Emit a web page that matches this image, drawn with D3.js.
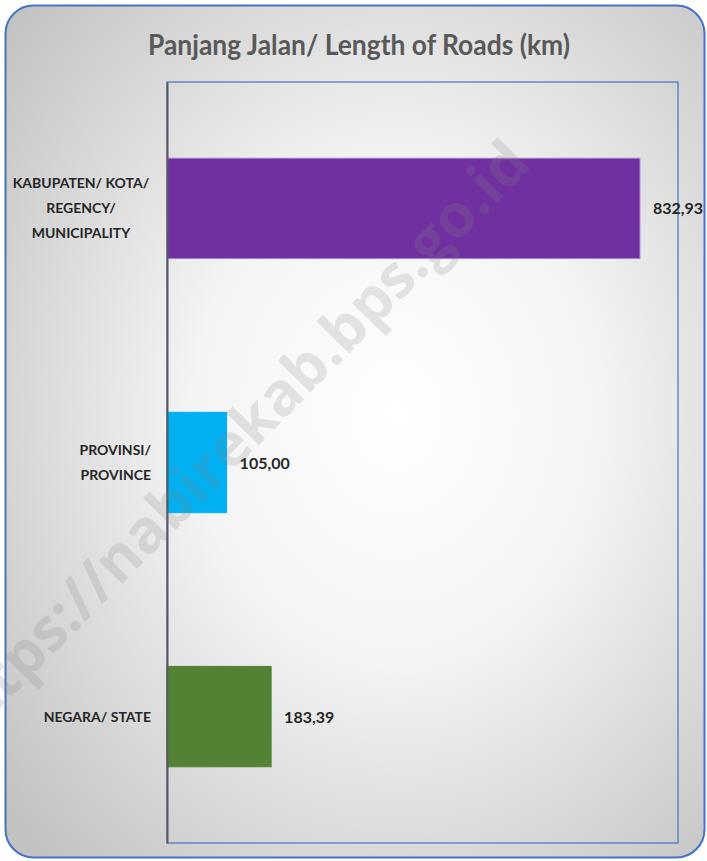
<!DOCTYPE html>
<html>
<head>
<meta charset="utf-8">
<script src="https://cdn.jsdelivr.net/npm/d3@7"></script>
<style>
  html, body { margin: 0; padding: 0; background: #ffffff; }
  svg { display: block; }
</style>
</head>
<body>
<script>
// Road length by administrative status (km)
const categories = ["KABUPATEN/ KOTA/ REGENCY/ MUNICIPALITY", "PROVINSI/ PROVINCE", "NEGARA/ STATE"];
const categoryLines = [["KABUPATEN/ KOTA/", "REGENCY/", "MUNICIPALITY"], ["PROVINSI/", "PROVINCE"], ["NEGARA/ STATE"]];
const values = [832.93, 105.00, 183.39];
const valueLabels = ["832,93", "105,00", "183,39"];
const barColors = ["#7030A0", "#00B0F0", "#548235"];
const barStrokes = ["#a67fd0", "#00B0F0", "#548235"];
const title = "Panjang Jalan/ Length of Roads (km)";
const watermark = "https://nabirekab.bps.go.id";

const W = 707, H = 861;
const plot = { left: 167, right: 678, top: 82, bottom: 843 };

const svg = d3.select("body").append("svg").attr("width", W).attr("height", H);
const defs = svg.append("defs");
const grad = defs.append("radialGradient").attr("id", "bg")
  .attr("cx", "56%").attr("cy", "48%").attr("r", "72%");
grad.append("stop").attr("offset", "0%").attr("stop-color", "#ffffff");
grad.append("stop").attr("offset", "40%").attr("stop-color", "#f4f4f4");
grad.append("stop").attr("offset", "100%").attr("stop-color", "#c2c2c2");

// chart frame
svg.append("rect")
  .attr("x", 5.5).attr("y", 5.5).attr("width", 699).attr("height", 852)
  .attr("rx", 28).attr("ry", 28)
  .attr("fill", "url(#bg)").attr("stroke", "#4472C4").attr("stroke-width", 2);

// title
svg.append("text")
  .attr("x", 359).attr("y", 55)
  .attr("text-anchor", "middle")
  .attr("font-family", "Lato, 'Open Sans', sans-serif")
  .attr("font-weight", "bold").attr("font-size", 28)
  .attr("fill", "#595959")
  .attr("textLength", 422).attr("lengthAdjust", "spacingAndGlyphs")
  .text(title);

const x = d3.scaleLinear().domain([0, 900]).range([plot.left, plot.right]);
const y = d3.scaleBand().domain(categories).range([plot.top, plot.bottom]).paddingInner(0.605).paddingOuter(0.3);

// plot area border
svg.append("rect")
  .attr("x", plot.left).attr("y", plot.top)
  .attr("width", plot.right - plot.left).attr("height", plot.bottom - plot.top)
  .attr("fill", "none").attr("stroke", "#4472C4").attr("stroke-width", 1.2);

// bars
svg.append("g").selectAll("rect").data(values).join("rect")
  .attr("x", x(0))
  .attr("y", (d, i) => y(categories[i]))
  .attr("width", d => x(d) - x(0))
  .attr("height", y.bandwidth())
  .attr("fill", (d, i) => barColors[i])
  .attr("stroke", (d, i) => barStrokes[i]).attr("stroke-width", 1);

// category axis
const yAxis = svg.append("g").attr("transform", `translate(${plot.left},0)`)
  .call(d3.axisLeft(y).tickSize(0).tickFormat(""));
yAxis.select(".domain").attr("stroke", "#595959").attr("stroke-width", 2);

const labelG = svg.append("g")
  .attr("font-family", "Lato, 'Open Sans', sans-serif")
  .attr("font-weight", "bold").attr("font-size", 14).attr("fill", "#262626");
categories.forEach((c, i) => {
  const lines = categoryLines[i];
  const cy = y(c) + y.bandwidth() / 2;
  const lh = 25;
  const t = labelG.append("text")
    .attr("text-anchor", i === 0 ? "middle" : "end");
  lines.forEach((l, k) => {
    t.append("tspan")
      .attr("x", i === 0 ? 81 : 151)
      .attr("y", cy + (k - (lines.length - 1) / 2) * lh + 5)
      .text(l);
  });
});

// value labels
svg.append("g")
  .attr("font-family", "Lato, 'Open Sans', sans-serif")
  .attr("font-weight", "bold").attr("font-size", 16).attr("fill", "#262626")
  .selectAll("text").data(values).join("text")
  .attr("x", d => x(d) + 13)
  .attr("y", (d, i) => y(categories[i]) + y.bandwidth() / 2 + 6)
  .text((d, i) => valueLabels[i]);

// watermark
svg.append("g")
  .append("text")
  .attr("transform", "translate(533,166) rotate(-45.5)")
  .attr("text-anchor", "end")
  .attr("font-family", "'Open Sans', sans-serif")
  .attr("font-weight", "bold").attr("font-size", 60)
  .attr("fill", "#808080").attr("fill-opacity", 0.2)
  .text(watermark);
</script>
</body>
</html>
